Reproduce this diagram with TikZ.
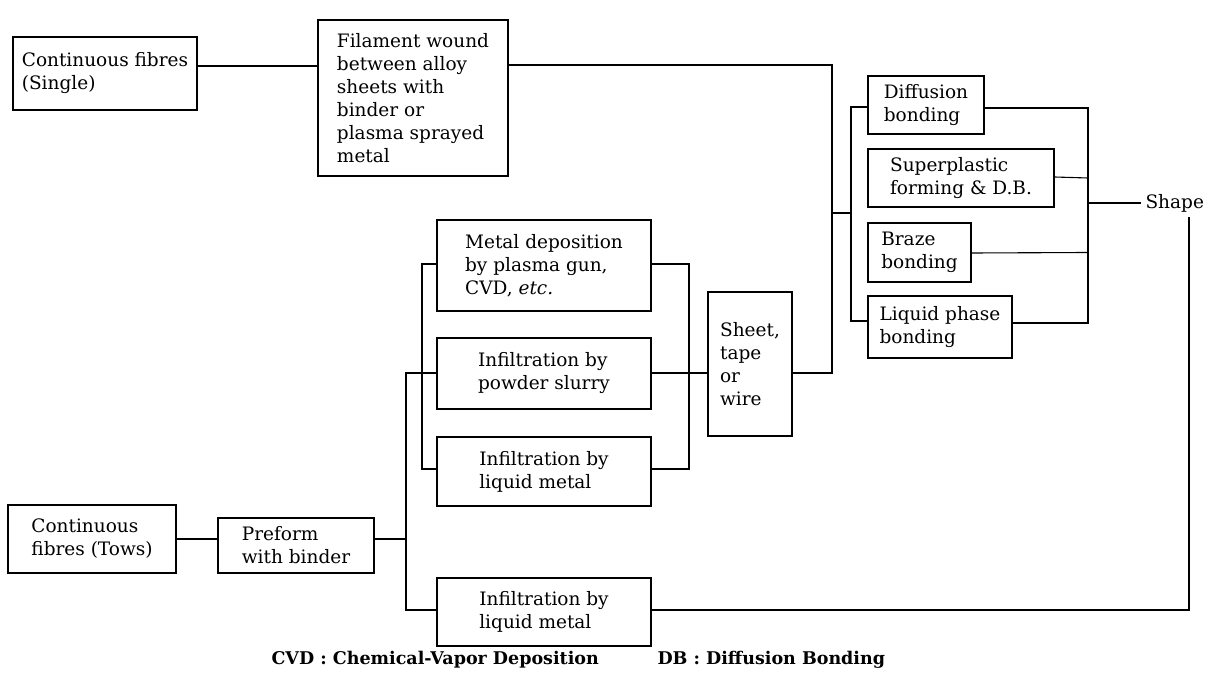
\documentclass[tikz,border=0pt]{standalone}
\usepackage{fontspec}
\setmainfont{DejaVu Serif}
\newcommand\mybox[6]{\node[box, minimum width={#4pt-#2pt}, minimum height={#5pt-#3pt}] (#1) at ({(#2+#4)/2},{(#3+#5)/2}) {#6};}
\begin{document}
\begin{tikzpicture}[x=1pt,y=-1pt,
  every path/.style={line width=1.1pt},
  box/.style={draw, line width=1.1pt, inner sep=0pt, align=left, font=\fontsize{18.5}{23}\selectfont},
  txt/.style={inner ysep=0pt, inner xsep=4pt, font=\fontsize{18.5}{23}\selectfont},
  foot/.style={inner sep=0pt, font=\bfseries\fontsize{17.5}{20}\selectfont}]
\useasboundingbox (0,0) rectangle (1212,684);
\mybox{single}{13}{37}{197}{110}{Continuous fibres\\(Single)}
\mybox{fil}{318}{20}{508}{176}{Filament wound\\between alloy\\sheets with\\binder or\\plasma sprayed\\metal}
\mybox{metal}{437}{220}{651}{311}{Metal deposition\\by plasma gun,\\CVD, \textit{etc.}}
\mybox{powder}{437}{338}{651}{409}{Infiltration by\\powder slurry}
\mybox{liqa}{437}{437}{651}{506}{Infiltration by\\liquid metal}
\mybox{sheet}{708}{292}{792}{436}{Sheet,\\tape\\or\\wire}
\mybox{diff}{868}{76}{984}{134}{Diffusion\\bonding}
\mybox{super}{868}{149}{1054}{207}{Superplastic\\forming \& D.B.}
\mybox{braze}{868}{223}{971}{282}{Braze\\bonding}
\mybox{lpb}{868}{296}{1012}{358}{Liquid phase\\bonding}
\mybox{tows}{8}{505}{176}{573}{Continuous\\fibres (Tows)}
\mybox{pre}{218}{518}{374}{573}{Preform\\with binder}
\mybox{liqb}{437}{578}{651}{646}{Infiltration by\\liquid metal}
\node[txt, anchor=west] (shape) at (1141,203) {Shape};
\node[foot, anchor=west] (cvd) at (271,660) {CVD : Chemical-Vapor Deposition};
\node[foot, anchor=west] (db) at (657,660) {DB : Diffusion Bonding};
% y levels
\coordinate (y66) at (0,66);
\coordinate (y65) at (0,65);
\coordinate (y107) at (0,107);
\coordinate (y108) at (0,108);
\coordinate (y177) at (0,177);
\coordinate (y253) at (0,253);
\coordinate (y264) at (0,264);
\coordinate (y321) at (0,321);
\coordinate (y323) at (0,323);
\coordinate (y373) at (0,373);
\coordinate (y469) at (0,469);
\coordinate (y539) at (0,539);
\coordinate (y610) at (0,610);
% buses
\coordinate (b1a) at (832,65);
\coordinate (b1b) at (832,373);
\coordinate (b1m) at (832,213);
\coordinate (b2m) at (851,213);
\coordinate (b2a) at (851,107);
\coordinate (b2b) at (851,321);
\coordinate (b3a) at (1088,108);
\coordinate (b3b) at (1088,323);
\coordinate (b3m) at (1088,203);
\coordinate (b4a) at (1189,610);
\coordinate (b4b) at (1189,217);
\coordinate (p1) at (406,539);
\coordinate (p2) at (406,373);
\coordinate (p3) at (406,610);
\coordinate (l1) at (422,264);
\coordinate (l2) at (422,469);
\coordinate (r1) at (689,264);
\coordinate (r2) at (689,469);
% upper connectors
\draw (single.east |- y66) -- (fil.west |- y66);
\draw (fil.east |- y65) -- (b1a) -- (b1b) -- (sheet.east |- y373);
\draw (b1m) -- (b2m);
\draw (diff.west |- y107) -- (b2a) -- (b2b) -- (lpb.west |- y321);
\draw (diff.east |- y108) -- (b3a) -- (b3b) -- (lpb.east |- y323);
\draw (super.east |- y177) -- (super.east -| b3a);
\draw (braze.east |- y253) -- (braze.east -| b3a);
\draw (b3m) -- (shape.west);
\draw (liqb.east |- y610) -- (b4a) -- (b4b);
% lower connectors
\draw (tows.east |- y539) -- (pre.west |- y539);
\draw (pre.east |- y539) -- (p1);
\draw (powder.west |- y373) -- (p2) -- (p3) -- (liqb.west |- y610);
\draw (metal.west |- y264) -- (l1) -- (l2) -- (liqa.west |- y469);
\draw (metal.east |- y264) -- (r1) -- (r2) -- (liqa.east |- y469);
\draw (powder.east |- y373) -- (sheet.west |- y373);
\end{tikzpicture}
\end{document}
